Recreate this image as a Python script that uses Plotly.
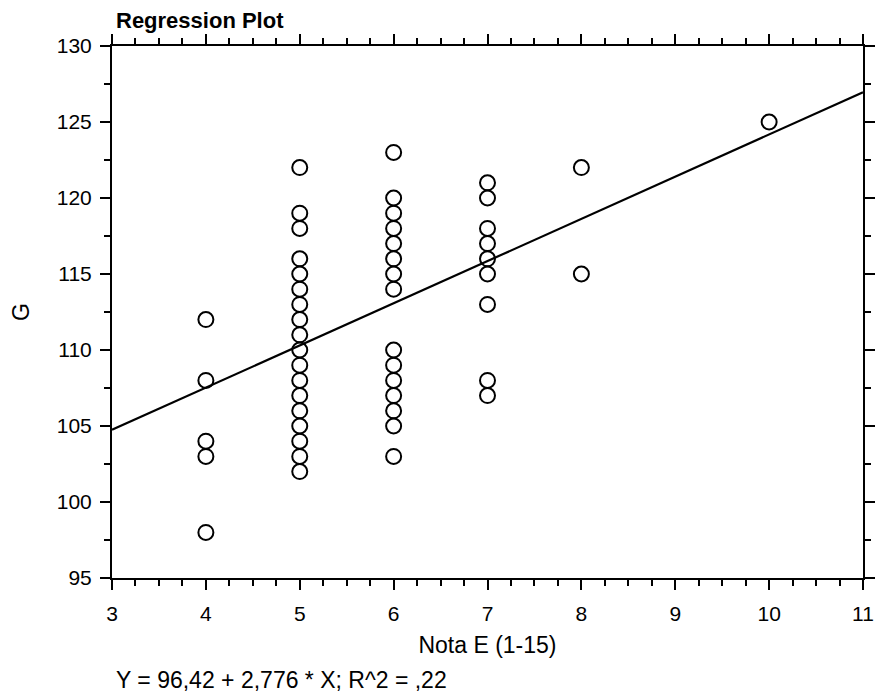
import numpy as np
import plotly.graph_objects as go

# Data
nota_x = ([4] * 5 + [5] * 18 + [6] * 15 + [7] * 9 + [8] * 2 + [10])
g_values = ([112, 108, 104, 103, 98] +
            [122, 119, 118, 116, 115, 114, 113, 112, 111, 110, 109, 108, 107, 106, 105, 104, 103, 102] +
            [123, 120, 119, 118, 117, 116, 115, 114, 110, 109, 108, 107, 106, 105, 103] +
            [121, 120, 118, 117, 116, 115, 113, 108, 107] +
            [122, 115] +
            [125])
intercept = 96.42
slope = 2.776
x_range = [3, 11]
y_range = [95, 130]

FONT = "Liberation Sans, Arial, sans-serif"

fig = go.Figure()
fig.add_trace(go.Scatter(
    x=nota_x, y=g_values, mode="markers",
    marker=dict(symbol="circle-open", size=15, color="black", line=dict(width=2)),
    showlegend=False, hoverinfo="x+y"))

line_x = np.array(x_range, dtype=float)
fig.add_trace(go.Scatter(
    x=line_x, y=intercept + slope * line_x, mode="lines",
    line=dict(color="black", width=2.2), showlegend=False))

axis_common = dict(
    showline=True, linecolor="black", linewidth=2, mirror="allticks",
    ticks="outside", ticklen=10, tickwidth=2, tickcolor="black",
    showgrid=False, zeroline=False, automargin=False,
    ticklabeloverflow="allow",
    tickfont=dict(family=FONT, size=21, color="black"),
)

fig.update_xaxes(range=x_range, dtick=1, tick0=3,
                 minor=dict(dtick=0.25, ticks="outside", ticklen=6, tickwidth=2, tickcolor="black", showgrid=False),
                 ticklabelstandoff=6,
                 title=dict(text="Nota E (1-15)", font=dict(family=FONT, size=23, color="black"), standoff=13),
                 **axis_common)
fig.update_yaxes(range=y_range, dtick=5, tick0=95,
                 minor=dict(dtick=2.5, ticks="outside", ticklen=6, tickwidth=2, tickcolor="black", showgrid=False),
                 ticklabelstandoff=4,
                 title=dict(text="G", font=dict(family=FONT, size=23, color="black"), standoff=22),
                 **axis_common)

fig.update_layout(
    width=875, height=687,
    margin=dict(l=104, r=20, t=38, b=117),
    plot_bgcolor="white", paper_bgcolor="white",
    font=dict(family=FONT, color="black"),
    annotations=[
        dict(text="<b>Regression Plot</b>", xref="paper", yref="paper", x=0.002, y=1.047,
             xanchor="left", yanchor="middle", showarrow=False,
             font=dict(family=FONT, size=22, color="black")),
        dict(text="Y = 96,42 + 2,776 * X; R^2 = ,22", xref="paper", yref="paper", x=0.002, y=-0.1917,
             xanchor="left", yanchor="middle", showarrow=False,
             font=dict(family=FONT, size=23, color="black")),
    ],
)

fig.write_html("out.html")
